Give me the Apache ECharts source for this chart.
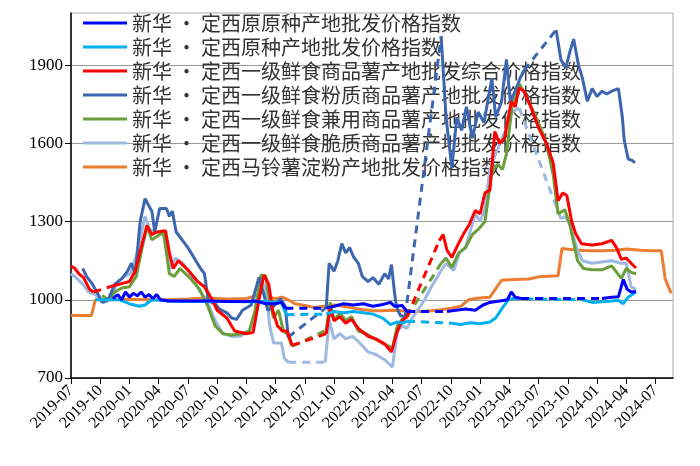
<!DOCTYPE html>
<html><head><meta charset="utf-8">
<script src="https://cdn.jsdelivr.net/npm/echarts@6/dist/echarts.min.js"></script>
<style>html,body{margin:0;padding:0;background:#fff}#c{width:700px;height:466px}</style>
</head><body><div id="c"></div>
<script>
// x values: months since 2019-07-01; null = gap (drawn dashed)
const names = [
 "新华 • 定西原原种产地批发价格指数",
 "新华 • 定西原种产地批发价格指数",
 "新华 • 定西一级鲜食商品薯产地批发综合价格指数",
 "新华 • 定西一级鲜食粉质商品薯产地批发价格指数",
 "新华 • 定西一级鲜食兼用商品薯产地批发价格指数",
 "新华 • 定西一级鲜食脆质商品薯产地批发价格指数",
 "新华 • 定西马铃薯淀粉产地批发价格指数"
];
const colors = ["#0000FF","#00B0F0","#FF0000","#3D66B0","#6A9E3A","#9DB9E2","#ED7D31"];
const yTicks = [700,1000,1300,1600,1900];

const yuanyuan = [[4.3,1005],[4.8,1020],[5.2,1000],[5.6,1030],[6,1010],[6.4,1025],[6.8,1015],[7.2,1030],[7.6,1010],[8,1020],[8.4,1005],[8.8,1020],[9.2,1000],[10,995],[12,995],[14,995],[16,993],[18,993],[19,995],[20,985],[21,985],[21.6,990],[22,968],null,[26.2,968],[27,975],[28,985],[29,980],[30,985],[31,975],[32,982],[32.8,990],[33.2,975],[34,978],[34.5,955],null,[38.6,955],[39.5,960],[40.5,965],[41.5,960],[42.3,980],[43,990],[44,995],[44.8,1000],[45.2,1030],[45.6,1010],[46.2,1005],null,[54.5,1005],[55.5,1010],[56.2,1012],[56.7,1078],[57.1,1040],[57.5,1030],[58,1032]];
const yuanzhong = [[2.5,1000],[4,1000],[5,1000],[6,985],[7,975],[7.6,980],[8.3,1000],[10,995],[12,993],[14,993],[16,993],[18,992],[20,992],[21.6,990],[22.1,943],null,[26.2,945],[27,955],[28,950],[29,955],[30,950],[31,945],[32,930],[32.8,905],[33.5,915],[34,910],[34.5,918],null,[39.1,910],[40,905],[41,912],[42,908],[43,915],[43.6,930],[44.3,970],[44.8,995],[45.2,1005],null,[52.5,1000],[53.5,990],[54.5,992],[55.5,995],[56.2,998],[56.7,985],[57.2,1010],[58,1030]];
const zonghe = [[0,1130],[0.4,1120],[0.8,1100],[1.3,1085],[1.9,1040],[2.3,1030],null,[4,1050],[5,1060],[6,1070],[6.6,1110],[7.2,1200],[7.8,1285],[8.3,1250],[8.8,1260],[9.7,1265],[10.1,1180],[10.5,1120],[11,1150],[12,1115],[13,1070],[13.7,1050],[14.5,1000],[15,960],[16,930],[16.8,880],[18,870],[18.7,875],[19.3,1000],[19.8,1095],[20.3,1060],[20.7,960],[21.2,900],[21.7,880],[22.2,880],[22.7,825],null,[26.2,870],[26.6,967],[27,920],[27.6,935],[28.2,910],[28.8,925],[29.5,890],[30.5,860],[31.3,850],[32.2,830],[32.9,800],[33.5,880],[34,920],[34.5,935],null,[37.8,1227],[38.2,1250],[38.6,1190],[39.1,1163],[39.7,1210],[40.3,1253],[40.9,1290],[41.5,1342],[42,1330],[42.5,1410],[43,1420],[43.5,1645],[44,1600],[44.5,1620],[45.2,1760],[45.6,1740],[46,1812],[46.5,1800],[47.2,1740],[48,1660],[48.8,1600],[49.5,1525],[50,1380],[50.5,1410],[50.9,1400],[51.4,1300],[51.8,1254],[52.4,1215],[53.5,1210],[54.5,1215],[55.5,1228],[56,1200],[56.5,1155],[57,1160],[57.5,1140],[58,1122]];
const fenzhi = [[1.2,1120],[1.6,1090],[2.2,1060],[2.8,1020],[3.2,990],[3.8,1000],[4.5,1060],[5.2,1080],[5.8,1110],[6.2,1140],[6.6,1100],[7.1,1300],[7.6,1388],[8,1360],[8.3,1340],[8.6,1260],[9.1,1350],[9.8,1350],[10.1,1320],[10.4,1340],[10.8,1260],[12,1200],[13.3,1120],[13.7,1100],[14.1,995],[14.8,985],[15.2,965],[16,950],[16.5,930],[17,925],[17.6,960],[18.5,980],[19.3,1086],[19.8,1020],[20.2,960],[20.8,975],[21.5,1005],[22.0,975],[22.3,857],null,[26.2,970],[26.5,1140],[27,1110],[27.4,1150],[27.8,1216],[28.2,1180],[28.6,1200],[29,1165],[29.5,1140],[29.9,1090],[30.5,1070],[31,1085],[31.6,1060],[32.2,1100],[32.6,1080],[32.9,1135],[33.2,1030],[33.4,975],[33.8,940],[34.3,935],null,[38,2010],[38.5,1700],[39.1,1506],[39.6,1700],[40.1,1650],[40.6,1740],[41.2,1620],[41.8,1720],[42.4,1680],[43.2,1850],[43.6,1700],[44.2,1760],[44.7,1922],[45.1,1760],[45.6,1800],[46.1,1850],[46.5,1880],null,[49.8,2035],[50.3,1920],[50.8,1890],[51.2,1950],[51.6,2000],[52.1,1900],[52.5,1850],[53,1762],[53.5,1810],[54,1780],[54.5,1800],[55,1790],[55.5,1800],[56.2,1810],[56.6,1700],[56.8,1610],[57.2,1540],[57.6,1535],[57.9,1525]];
const jianyong = [[3.2,1017],[3.8,1000],[4.5,1030],[5.2,1045],[6,1050],[6.7,1090],[7.3,1200],[7.8,1280],[8.3,1230],[8.7,1240],[9.5,1260],[10.1,1100],[10.6,1090],[11.2,1120],[12.3,1080],[13.2,1040],[14,980],[14.8,900],[15.6,870],[16.5,865],[17.5,870],[18.3,880],[18.9,960],[19.5,1095],[20,1090],[20.4,990],[20.8,930],[21.3,960],[21.8,880],[22.2,870],[22.7,822],null,[26.2,883],[26.6,990],[27,920],[27.6,950],[28.2,920],[28.8,935],[29.5,880],[30.3,870],[31.2,850],[32.2,830],[33,815],[33.5,900],[34,925],[34.5,935],null,[38,1140],[38.5,1160],[39.1,1124],[39.8,1180],[40.5,1200],[41.2,1250],[41.8,1270],[42.5,1300],[43.2,1490],[43.8,1520],[44.3,1500],[44.7,1560],[45.3,1750],[45.7,1780],[46,1830],[46.6,1790],[47.5,1720],[48.2,1660],[48.8,1600],[49.5,1480],[50,1330],[50.7,1345],[51.2,1290],[52,1150],[52.6,1120],[53.5,1115],[54.5,1115],[55.5,1130],[56.5,1082],[57,1120],[57.5,1105],[58,1100]];
const cuizhi = [[0,1100],[0.5,1085],[1.2,1060],[1.8,1030],[2.5,1020],[3.4,990],[4,1000],[4.8,1070],[5.5,1090],[6.1,1100],[6.8,1180],[7.6,1320],[8.1,1270],[8.5,1260],[9.5,1250],[10.2,1120],[10.7,1160],[11.5,1140],[12.2,1100],[13.1,1040],[14,990],[14.8,920],[15.6,870],[16.5,860],[17.4,860],[18.3,880],[18.9,920],[19.5,1080],[20,1040],[20.4,900],[20.8,834],[21.6,834],[21.9,776],[22.3,760],null,[26.1,760],[26.5,922],[27,850],[27.6,870],[28.2,850],[28.9,860],[29.5,840],[30.5,800],[31.3,790],[32.2,770],[33,742],[33.5,880],[34,900],[34.5,890],[35,930],[35.6,960],[36.3,1000],[37,1050],[37.8,1100],[38.5,1140],[39.3,1113],[39.9,1180],[40.5,1200],[41.5,1330],[42,1300],[42.5,1350],[43,1500],[43.6,1560],[44.5,1640],[45.3,1720],[46,1736],null,[50.3,1310],[50.7,1320],[51.2,1290],[52,1189],[52.5,1150],[53.5,1140],[54.5,1145],[55.5,1150],[56.5,1140],[57,1140],[57.5,1050],[58,1040]];
const dianfen = [[0,940],[1,940],[2.1,940],[2.5,1000],[4,1000],[6,1002],[8,1000],[10,1000],[12,1003],[14,1007],[16,1003],[18,1005],[19,1015],[19.7,1035],[20.3,1010],[21,1005],[21.7,1010],[22.3,1000],[23,985],[24,978],[25,970],[26,975],[27,980],[28,975],[29,968],[30,962],[31,958],[32,958],[33,960],[34,958],[35,955],[36,955],[37,958],[38,962],[39,968],[40,975],[40.8,1000],[41.5,1005],[42.2,1008],[43,1010],[44.2,1075],[45.5,1078],[47,1080],[48,1088],[49,1090],[50,1092],[50.4,1197],[51.5,1192],[53,1188],[54.5,1188],[56,1190],[57,1195],[58.5,1190],[59.5,1188],[60.6,1188],[61,1080],[61.6,1025]];
const allData = [yuanyuan,yuanzhong,zonghe,fenzhi,jianyong,cuizhi,dianfen];

function gapSegments(d){
  const out=[];
  for(let i=1;i<d.length-1;i++){ if(d[i]===null){ out.push(d[i-1],d[i+1],null);} }
  return out;
}
function label(m){
  const t=Math.round(m)+6; const y=2019+Math.floor(t/12); const mo=(t%12)+1;
  return y+'-'+(mo<10?'0':'')+mo;
}
const series=[];
allData.forEach((d,i)=>{
  series.push({name:names[i],type:'line',data:d.map(p=>p===null?[null,null]:p),showSymbol:false,connectNulls:false,
    lineStyle:{color:colors[i],width:3},itemStyle:{color:colors[i]},z:10-i,animation:false});
  series.push({name:'gap'+i,type:'line',data:gapSegments(d).map(p=>p===null?[null,null]:p),showSymbol:false,
    lineStyle:{color:colors[i],width:3,type:[8,6]},itemStyle:{color:colors[i]},z:10-i,animation:false});
});
const chart=echarts.init(document.getElementById('c'));
chart.setOption({
  animation:false,
  grid:{left:71,right:27,top:13,bottom:88,show:true,borderColor:'#aaa',borderWidth:1},
  legend:{data:names,orient:'vertical',left:78,top:8,itemGap:4,itemWidth:44,itemHeight:14,
    textStyle:{fontFamily:'Noto Sans CJK SC',fontSize:20,color:'#333',padding:[0,0,0,0]},
    icon:'path://M0,6 L44,6 L44,9 L0,9 Z'},
  xAxis:{type:'value',min:0,max:61.8,interval:3,
    axisLine:{lineStyle:{color:'#000',width:1.5}},axisTick:{lineStyle:{color:'#000'},length:6},
    splitLine:{show:false},
    axisLabel:{rotate:45,formatter:v=>label(v),showMaxLabel:false,fontFamily:'Liberation Serif',fontSize:16,color:'#000',margin:10}},
  yAxis:{type:'value',min:700,max:2100,
    axisLine:{show:true,lineStyle:{color:'#000',width:1.5}},
    axisTick:{show:true,customValues:yTicks,lineStyle:{color:'#000'},length:6},
    axisLabel:{customValues:yTicks,formatter:v=>String(v),fontFamily:'Liberation Serif',fontSize:17,color:'#000'},
    splitLine:{show:true,lineStyle:{color:'#999',width:1}}},
  series:series
});
</script></body></html>
